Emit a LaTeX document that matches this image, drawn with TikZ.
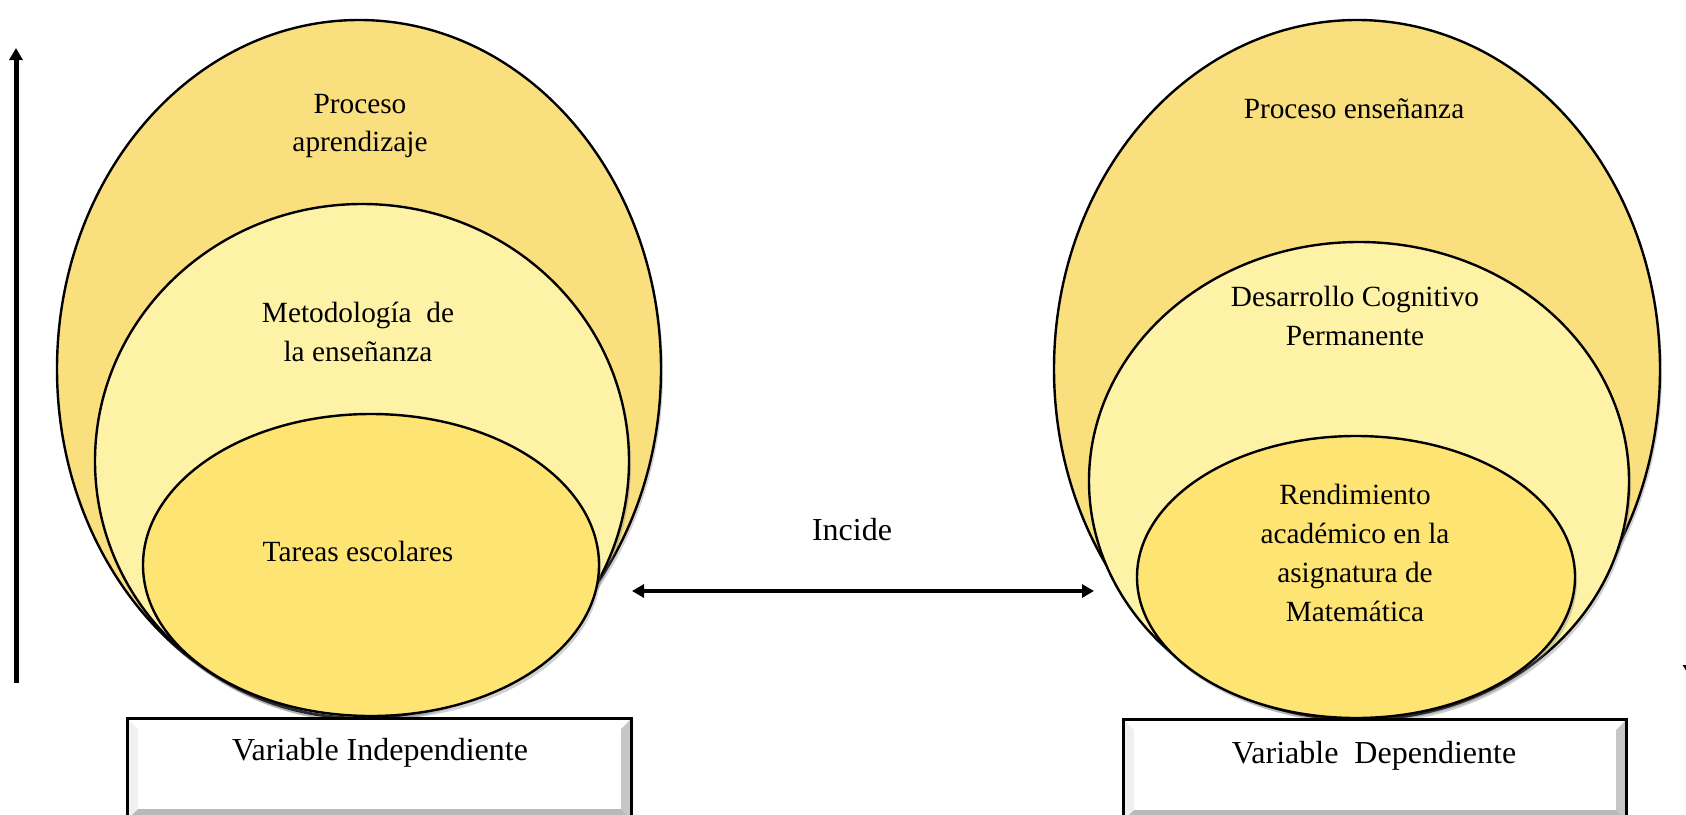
\documentclass[tikz,border=0pt]{standalone}
\usepackage{fontspec}
\setmainfont{Liberation Serif}
\usetikzlibrary{shapes.geometric,arrows.meta,shadows,calc}
\definecolor{outerY}{HTML}{F9DF7E}
\definecolor{midY}{HTML}{FEF2A6}
\definecolor{innerY}{HTML}{FEE472}
\tikzset{
  ell/.style={ellipse, draw=black, line width=2.4pt, inner sep=0pt,
    drop shadow={opacity=0.35, shadow xshift=2pt, shadow yshift=-4pt}},
  ltext/.style={align=center, font=\fontsize{29.3}{38.7}\selectfont, inner sep=0pt},
  btext/.style={align=center, font=\fontsize{32}{38}\selectfont, inner sep=0pt},
  vbox/.style={rectangle, fill=white, inner sep=0pt},
  tip/.style={Triangle[length=12pt,width=13pt]}
}
\newcommand{\bevelbox}[1]{%
  \fill[gray!12] (#1.north west) -- (#1.south west) -- ($(#1.south west)+(10,-10)$) -- ($(#1.north west)+(10,10)$) -- cycle;
  \fill[white] (#1.north west) -- (#1.north east) -- ($(#1.north east)+(-10,10)$) -- ($(#1.north west)+(10,10)$) -- cycle;
  \fill[gray!45] (#1.north east) -- (#1.south east) -- ($(#1.south east)+(-10,-10)$) -- ($(#1.north east)+(-10,10)$) -- cycle;
  \fill[gray!55] (#1.south west) -- (#1.south east) -- ($(#1.south east)+(-10,-10)$) -- ($(#1.south west)+(10,-10)$) -- cycle;
  \draw[line width=3pt] (#1.south west) -- (#1.north west) -- (#1.north east) -- (#1.south east);
}
\begin{document}
\begin{tikzpicture}[x=1pt,y=-1pt]
\useasboundingbox (0,0) rectangle (1686,814);
\clip (0,0) rectangle (1686,814);
\fill[white] (0,0) rectangle (1686,814);

% left ellipses
\node[ell, fill=outerY, minimum width=604, minimum height=698] (LO) at (359,369) {};
\node[ell, fill=midY, minimum width=534, minimum height=514] (LM) at (362,461) {};
\node[ell, fill=innerY, minimum width=456, minimum height=302] (LI) at (371,565) {};

% right ellipses
\node[ell, fill=outerY, minimum width=606, minimum height=698] (RO) at (1357,369) {};
\node[ell, fill=midY, minimum width=540, minimum height=478] (RM) at (1359,481) {};
\node[ell, fill=innerY, minimum width=438, minimum height=282] (RI) at (1356,577) {};

% texts
\node[ltext] (t1) at (360,126) {Proceso\\aprendizaje};
\node[ltext] (t2) at (358,332) {Metodología\ \ de\\la enseñanza};
\node[ltext] (t3) at (358,551) {Tareas escolares};
\node[ltext] (t4) at (1354,109) {Proceso enseñanza};
\node[ltext] (t5) at (1355,316) {Desarrollo Cognitivo\\Permanente};
\node[ltext] (t6) at (1355,553) {Rendimiento\\académico en la\\asignatura de\\Matemática};

% boxes
\node[vbox, minimum width=503, minimum height=100] (BL) at (379.5,769) {};
\bevelbox{BL}
\node[btext] (bl) at (380,753) {Variable Independiente};
\node[vbox, minimum width=502, minimum height=100] (BR) at (1375,770) {};
\bevelbox{BR}
\node[btext] (br) at (1374,756) {Variable\ \ Dependiente};

% arrows
\node[btext] (inc) at (852,530) {Incide};
\coordinate (aL) at (632,591);
\coordinate (aR) at (1094,591);
\draw[line width=4pt, {Triangle[length=12pt,width=13pt]}-{Triangle[length=12pt,width=13pt]}] (aL) -- (aR);

\coordinate (vB) at (16,683);
\coordinate (vT) at (16,48);
\draw[line width=5pt, -{Triangle[length=12pt,width=13pt]}] (vB) -- (vT);

\coordinate (wT) at (1690,48);
\coordinate (wB) at (1690,677);
\draw[line width=5pt, -{Triangle[length=12pt,width=14pt]}] (wT) -- (wB);
\end{tikzpicture}
\end{document}
